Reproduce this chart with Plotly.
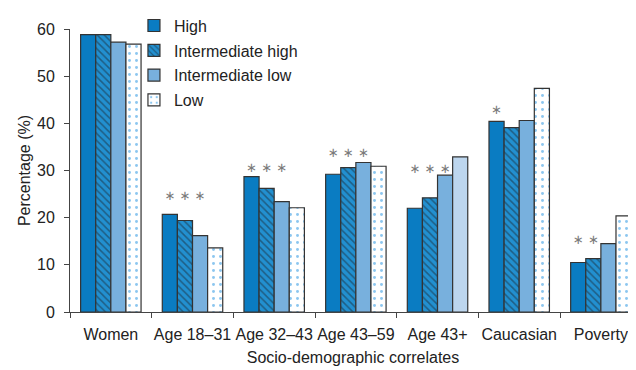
import plotly.graph_objects as go

categories = ["Women", "Age 18–31", "Age 32–43", "Age 43–59", "Age 43+", "Caucasian", "Poverty"]
series_names = ["High", "Intermediate high", "Intermediate low", "Low"]
high = [58.8, 20.7, 28.7, 29.2, 22.0, 40.4, 10.5]
inter_high = [58.8, 19.4, 26.2, 30.6, 24.2, 39.1, 11.3]
inter_low = [57.2, 16.2, 23.4, 31.7, 29.0, 40.6, 14.5]
low = [56.8, 13.6, 22.1, 30.9, 32.9, 47.4, 20.4]
# the "Low" bar that is drawn plain pale blue instead of dotted
pale_low_category = "Age 43+"
# significance marks: which series carry an asterisk per category, and the level they sit at
star_flags = [
    [0, 1, 1, 1, 1, 1, 1],  # High
    [0, 1, 1, 1, 1, 0, 1],  # Intermediate high
    [0, 1, 1, 1, 1, 0, 0],  # Intermediate low
    [0, 0, 0, 0, 0, 0, 0],  # Low
]
star_level = [0, 24.4, 30.3, 33.5, 30.1, 42.7, 15.1]

xs = list(range(len(categories)))

BLUE = "#0a7cc2"
BLUE_H = "#2290d0"
LBLUE = "#78b0dd"
PALE = "#bdd6ee"
EDGE = "#333333"
DOT = "#1a8ee0"

fig = go.Figure()
line = dict(color=EDGE, width=1.2)

fig.add_trace(go.Bar(x=xs, y=high, name=series_names[0], offsetgroup="g0", legendgroup="g0",
                     marker=dict(color=BLUE, line=line)))
fig.add_trace(go.Bar(x=xs, y=inter_high, name=series_names[1], offsetgroup="g1", legendgroup="g1",
                     marker=dict(color=BLUE_H, line=line,
                                 pattern=dict(shape="\\", fgcolor="#1b2a36", bgcolor=BLUE_H,
                                              fillmode="overlay", size=5, solidity=0.3))))
fig.add_trace(go.Bar(x=xs, y=inter_low, name=series_names[2], offsetgroup="g2", legendgroup="g2",
                     marker=dict(color=LBLUE, line=line)))

low_dotted = [None if c == pale_low_category else v for c, v in zip(categories, low)]
low_pale = [v if c == pale_low_category else None for c, v in zip(categories, low)]
fig.add_trace(go.Bar(x=xs, y=low_dotted, name=series_names[3], offsetgroup="g3", legendgroup="g3",
                     marker=dict(color="white", line=line,
                                 pattern=dict(shape=".", fgcolor=DOT, bgcolor="white",
                                              fillmode="overlay", size=7, solidity=0.14))))
fig.add_trace(go.Bar(x=xs, y=low_pale, name=series_names[3], offsetgroup="g3", legendgroup="g3",
                     showlegend=False, marker=dict(color=PALE, line=line)))

bargap = 0.26
bw = (1 - bargap) / 4
sx, sy = [], []
for k in range(4):
    for j in xs:
        if star_flags[k][j]:
            sx.append(j + (k - 1.5) * bw)
            sy.append(star_level[j])
fig.add_trace(go.Scatter(
    x=sx, y=sy, mode="text", text=["∗"] * len(sx), showlegend=False,
    textfont=dict(size=13, color="#7a7a7a", family="DejaVu Sans"), hoverinfo="skip",
))

# page body has an 8px margin, so the figure is sized/offset to land the plot where the reference has it
fig.update_layout(
    width=628, height=362,
    margin=dict(l=62, r=0, t=21, b=58),
    paper_bgcolor="white", plot_bgcolor="white",
    barmode="group", bargap=bargap, bargroupgap=0,
    font=dict(family="Liberation Sans, Arial, sans-serif", size=16, color="#222222"),
    showlegend=True,
    legend=dict(
        x=0.113, y=1.072, xanchor="left", yanchor="top",
        bgcolor="rgba(0,0,0,0)", font=dict(size=16, color="#222222"),
        traceorder="grouped", tracegroupgap=1,
    ),
)
fig.update_xaxes(
    range=[-0.5, 6.43], tickvals=xs, ticktext=categories, ticks="",
    showline=True, linecolor="#444444", linewidth=1, showgrid=False, zeroline=False,
    minor=dict(tickvals=[x - 0.5 for x in xs], ticks="outside", ticklen=5, tickcolor="#444444", showgrid=False),
    title=dict(text="Socio-demographic correlates", font=dict(size=16), standoff=9),
    tickfont=dict(size=16), ticklabelstandoff=8,
)
fig.update_yaxes(
    range=[0, 60], dtick=10, ticks="outside", ticklen=5, tickcolor="#444444",
    showline=True, linecolor="#444444", linewidth=1, showgrid=False, zeroline=False,
    title=dict(text="Percentage (%)", font=dict(size=16), standoff=2),
    tickfont=dict(size=16), ticklabelstandoff=6,
)

fig.write_html("out.html")
